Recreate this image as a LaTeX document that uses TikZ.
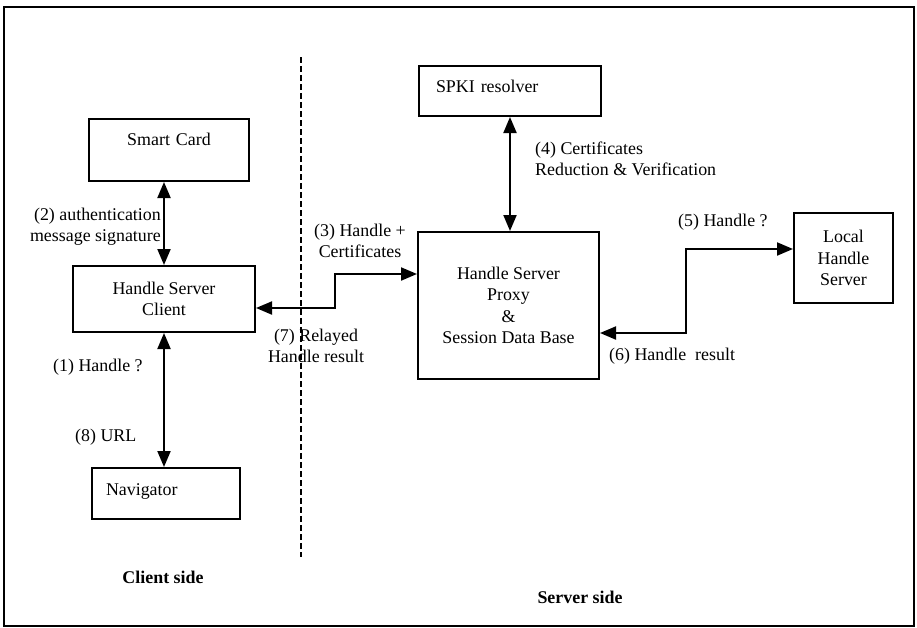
\documentclass[tikz,border=0pt]{standalone}
\usepackage{fontspec}
\setmainfont{Liberation Serif}
\usetikzlibrary{arrows.meta}
\begin{document}
\begin{tikzpicture}[x=1pt,y=-1pt,
  every node/.style={font=\fontsize{17.9}{21.5}\selectfont},
  box/.style={draw, line width=2pt, inner ysep=0pt},
  conn/.style={line width=2pt, {Triangle[length=16pt,width=13pt]}-{Triangle[length=16pt,width=13pt]}},
  lbl/.style={inner sep=0pt},
  divider/.style={line width=1.5pt, dash pattern=on 6pt off 3pt},
  frame/.style={line width=1.5pt}]
\useasboundingbox (0,0) rectangle (917,627);
\draw[frame] (4,7) rectangle (914,626);

% boxes
\node[box, anchor=north west, inner xsep=0pt, text width=160pt, align=center,
      text height=26pt, text depth=36pt] (sc) at (88,118) {Smart Card};
\node[box, minimum width=182pt, minimum height=66pt, align=center] (hsc) at (164,299)
      {Handle Server\\Client};
\node[box, anchor=north west, inner xsep=14pt, text width=120pt, align=left,
      text height=27pt, text depth=24pt] (nav) at (91,467) {Navigator};
\node[box, anchor=north west, inner xsep=17pt, text width=148pt, align=left,
      text height=26pt, text depth=24pt] (spki) at (418,65) {SPKI resolver};
\node[box, minimum width=181pt, minimum height=147pt, align=center] (proxy) at (508.5,305.5)
      {Handle Server\\Proxy\\\&\\Session Data Base};
\node[box, minimum width=99pt, minimum height=90pt, align=center] (local) at (843.5,258)
      {Local\\Handle\\Server};

% bend points
\coordinate (b1) at (335,274);
\coordinate (b2) at (335,308);
\coordinate (b3) at (686,249);
\coordinate (b4) at (686,333);
\coordinate (d1) at (301,57);
\coordinate (d2) at (301,557);

% connectors
\draw[conn] (hsc.north) -- (hsc.north |- sc.south);
\draw[conn] (hsc.south) -- (hsc.south |- nav.north);
\draw[conn] (spki.south) -- (spki.south |- proxy.north);
\draw[conn] (hsc.east |- b2) -- (b2) -- (b1) -- (proxy.west |- b1);
\draw[conn] (local.west |- b3) -- (b3) -- (b4) -- (proxy.east |- b4);

\draw[divider] (d1) -- (d2);

% labels
\node[lbl, anchor=east, align=right] (l2) at (161,226.5) {(2) authentication\\message signature};
\node[lbl, align=center] (l3) at (360,241) {(3) Handle +\\Certificates};
\node[lbl, anchor=west, align=left] (l4) at (535,159) {(4) Certificates\\Reduction \& Verification};
\node[lbl, anchor=west] (l5) at (678,222) {(5) Handle ?};
\node[lbl, anchor=west] (l6) at (609,356) {(6) Handle~ result};
\node[lbl, align=center] (l7) at (316,346) {(7) Relayed\\Handle result};
\node[lbl, anchor=west] (l1) at (53,367) {(1) Handle ?};
\node[lbl, anchor=west] (l8) at (75,437) {(8) URL};
\node[lbl, font=\fontsize{17.9}{21.5}\selectfont\bfseries] (cs) at (163,577) {Client side};
\node[lbl, font=\fontsize{17.9}{21.5}\selectfont\bfseries] (ss) at (580,597) {Server side};
\end{tikzpicture}
\end{document}
